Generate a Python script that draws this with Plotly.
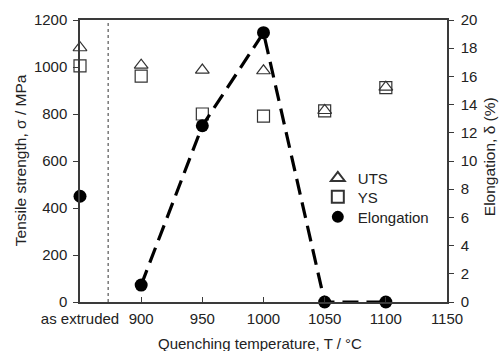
import plotly.graph_objects as go

# Data (x = 850 stands for "as extruded")
temps = [850, 900, 950, 1000, 1050, 1100]
uts = [1082, 1008, 987, 984, 815, 914]
ys = [1005, 961, 800, 791, 813, 912]
elong_ext_x = [850]
elong_ext = [7.5]
elong_x = [900, 950, 1000, 1050, 1100]
elong = [1.2, 12.5, 19.1, 0, 0]

tick_vals = [850, 900, 950, 1000, 1050, 1100, 1150]
tick_text = ["as extruded", "900", "950", "1000", "1050", "1100", "1150"]

FONT = "Liberation Sans, Arial, sans-serif"
TXT = "#222222"
LINE = "#3a3a3a"

fig = go.Figure()
fig.add_trace(go.Scatter(x=temps, y=uts, mode="markers", name="UTS", legend="legend",
                         marker=dict(symbol="triangle-up-open", size=12, color="#333",
                                     line=dict(width=1.2, color="#333")),
                         cliponaxis=False))
fig.add_trace(go.Scatter(x=temps, y=ys, mode="markers", name="YS", legend="legend2",
                         marker=dict(symbol="square-open", size=12, color="#333",
                                     line=dict(width=1.2, color="#333")),
                         cliponaxis=False))
fig.add_trace(go.Scatter(x=elong_x, y=elong, mode="lines+markers", yaxis="y2",
                         showlegend=False,
                         line=dict(color="black", width=3.2, dash="16px,8px"),
                         marker=dict(symbol="circle", size=13, color="black"),
                         cliponaxis=False))
fig.add_trace(go.Scatter(x=elong_ext_x, y=elong_ext, mode="markers", yaxis="y2",
                         name="Elongation", legend="legend3",
                         marker=dict(symbol="circle", size=13, color="black"),
                         cliponaxis=False))

fig.add_shape(type="line", xref="x", yref="paper", x0=873, x1=873, y0=0, y1=1,
              line=dict(color="#333", width=1, dash="dot"))

leg_common = dict(x=0.648, xanchor="left", yanchor="middle",
                  bgcolor="rgba(0,0,0,0)", font=dict(size=15, color=TXT,
                                                     family=FONT),
                  itemsizing="constant", itemwidth=30)

axis_font = dict(size=15, color=TXT, family=FONT)

fig.update_layout(
    width=500, height=351,
    margin=dict(l=80, r=53, t=20, b=49),
    paper_bgcolor="white", plot_bgcolor="white",
    font=dict(family=FONT, size=15, color=TXT),
    showlegend=True,
    legend=dict(y=0.439, **leg_common),
    legend2=dict(y=0.372, **leg_common),
    legend3=dict(y=0.301, **leg_common),
    xaxis=dict(range=[850, 1150], tickvals=tick_vals, ticktext=tick_text,
               showline=True, linecolor=LINE, linewidth=1.5, mirror=True,
               ticks="inside", ticklen=5, tickcolor=LINE, showgrid=False,
               zeroline=False, tickfont=axis_font, ticklabelstandoff=2),
    yaxis=dict(range=[0, 1200], dtick=200, showline=True, linecolor=LINE,
               linewidth=1.5, ticks="outside", ticklen=5, tickcolor=LINE,
               showgrid=False, zeroline=False, tickfont=axis_font,
               ticklabelstandoff=3),
    yaxis2=dict(range=[0, 20], dtick=2, overlaying="y", side="right",
                showline=True, linecolor=LINE, linewidth=1.5,
                ticks="outside", ticklen=5, tickcolor=LINE,
                showgrid=False, zeroline=False, tickfont=axis_font,
                ticklabelstandoff=4),
    annotations=[
        dict(text="Quenching temperature, T / °C", xref="paper", yref="paper",
             x=0.49, y=-0.147, xanchor="center", yanchor="middle",
             showarrow=False, font=dict(size=15, color=TXT, family=FONT)),
        dict(text="Tensile strength, σ / MPa", xref="paper", yref="paper",
             x=-0.1635, y=0.503, xanchor="center", yanchor="middle",
             textangle=-90, showarrow=False,
             font=dict(size=15.5, color=TXT, family=FONT)),
        dict(text="Elongation, δ (%)", xref="paper", yref="paper",
             x=1.1144, y=0.517, xanchor="center", yanchor="middle",
             textangle=-90, showarrow=False,
             font=dict(size=15.5, color=TXT, family=FONT)),
    ],
)

fig.write_html("out.html", config={"displayModeBar": False},
               post_script="document.body.style.margin='0';document.body.style.padding='0';")
